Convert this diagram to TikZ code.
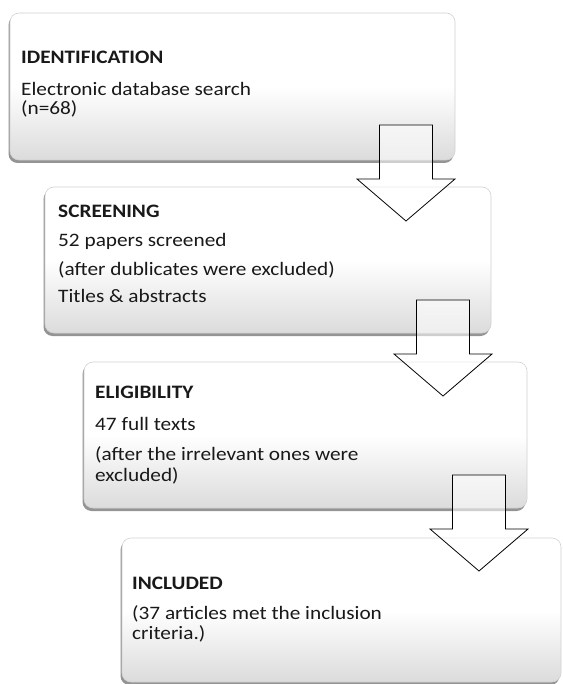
\documentclass[tikz,border=0pt]{standalone}
\usepackage{fontspec}
\setmainfont{Carlito}[FakeStretch=1.12]
\usetikzlibrary{shadows,calc}
\begin{document}
\begin{tikzpicture}[x=1pt,y=-1pt,
  flowbox/.style={rounded corners=9pt, draw=black!18, line width=0.6pt,
    top color=white, bottom color=black!14, middle color=white,
    drop shadow={shadow xshift=-1.5pt, shadow yshift=-3pt, opacity=0.6, fill=black!70}},
  txt/.style={anchor=base west, inner sep=0pt, font=\fontsize{19}{19}\selectfont, text=black!90},
  ttl/.style={txt, font=\fontsize{19}{19}\selectfont\bfseries},
  blockarrow/.style={draw=black, line width=0.8pt, fill=white, fill opacity=0.55, line join=miter}]
\useasboundingbox (0,0) rectangle (562,684);
% boxes
\path[flowbox] (10,13) rectangle (455,160);
\node (b1) at (232.5,86.5) {};
\path[flowbox] (45,187) rectangle (491,333);
\node (b2) at (268,260) {};
\path[flowbox] (84,362) rectangle (527,508);
\node (b3) at (305.5,435) {};
\path[flowbox] (122,538) rectangle (561,682);
\node (b4) at (341.5,610) {};
% texts
\node[ttl] (t1a) at (21,64) {IDENTIFICATION};
\node[txt] (t1b) at (21,96) {Electronic database search};
\node[txt] (t1c) at (21,115) {(n=68)};
\node[ttl] (t2a) at (58,218) {SCREENING};
\node[txt] (t2b) at (58,247) {52 papers screened};
\node[txt] (t2c) at (58,275) {(after dublicates were excluded)};
\node[txt] (t2d) at (58,302) {Titles \& abstracts};
\node[ttl] (t3a) at (95,398) {ELIGIBILITY};
\node[txt] (t3b) at (95,430) {47 full texts};
\node[txt] (t3c) at (95,460) {(after the irrelevant ones were};
\node[txt] (t3d) at (95,481) {excluded)};
\node[ttl] (t4a) at (132,589) {INCLUDED};
\node[txt] (t4b) at (132,619) {(37 articles met the inclusion};
\node[txt] (t4c) at (132,639) {criteria.)};
% arrows: coordinate = tip
\newcommand{\blockarrowat}[1]{%
  \draw[blockarrow] ($(#1)+(-26.5,-96)$) -- ($(#1)+(26.5,-96)$) -- ($(#1)+(26.5,-42)$) -- ($(#1)+(49,-42)$) -- (#1) -- ($(#1)+(-49,-42)$) -- ($(#1)+(-26.5,-42)$) -- cycle;}
\coordinate (a1) at (406,221);
\coordinate (a2) at (443,396);
\coordinate (a3) at (479,571);
\blockarrowat{a1}
\blockarrowat{a2}
\blockarrowat{a3}
\end{tikzpicture}
\end{document}
